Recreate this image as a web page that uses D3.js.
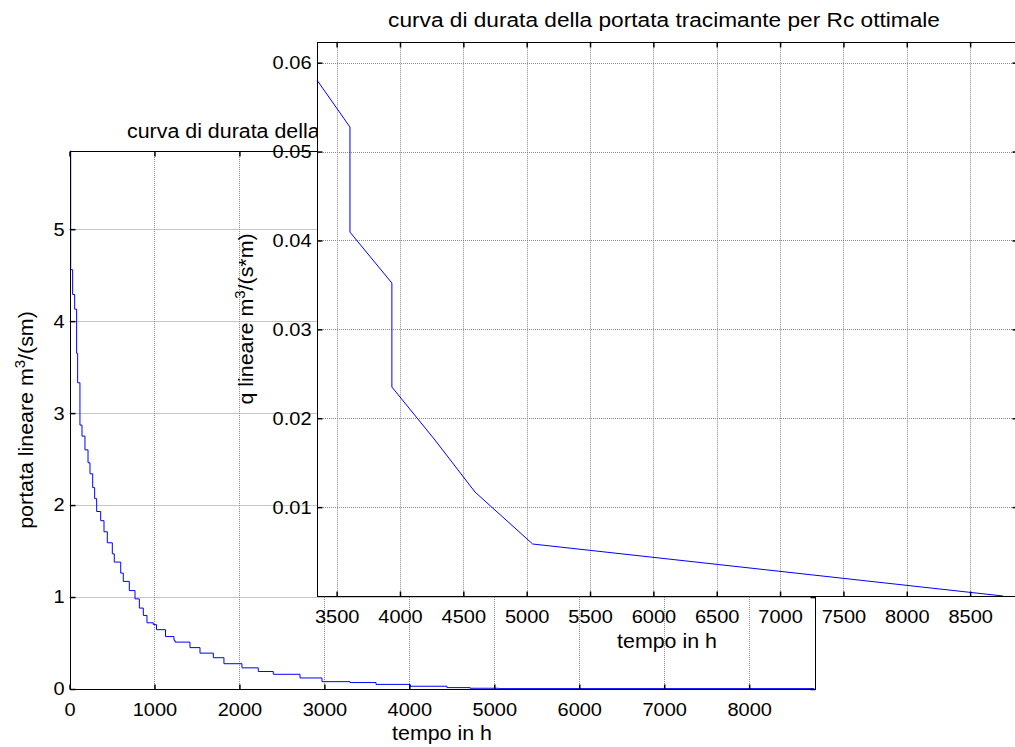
<!DOCTYPE html>
<html><head><meta charset="utf-8">
<script src="https://cdn.jsdelivr.net/npm/d3@7"></script>
<style>
body{margin:0;background:#fff}
svg text{font-family:"Liberation Sans",Arial,sans-serif;fill:#000}
</style>
</head><body>
<svg id="c" width="1015" height="747"></svg>
<script>
// ---- main chart data (duration curve, step) ----
const mainHours = [6,14,37,61,84,96,123,147,182,218,241,273,296,320,367,406,445,504,527,603,633,704,771,822,869,912,986,1024,1130,1230,1242,1418,1536,1693,1818,2030,2222,2399,2713,2972,3302,3608,4008,4443,4714,5050,8760];
const mainFlow  = [5.85,4.56,4.29,4.13,3.65,3.33,2.87,2.75,2.60,2.46,2.34,2.19,2.07,1.93,1.83,1.71,1.59,1.47,1.38,1.26,1.17,1.07,0.98,0.88,0.80,0.72,0.70,0.645,0.57,0.53,0.51,0.45,0.39,0.34,0.275,0.23,0.19,0.16,0.12,0.08,0.07,0.05,0.03,0.015,0.008,0.004,0.0];
const mainXTicks = [0,1000,2000,3000,4000,5000,6000,7000,8000];
const mainYTicks = [0,1,2,3,4,5];
const mainTitle = "curva di durata della portata lineare tracimante";
const mainXLabel = "tempo in h";

// ---- inset chart data ----
const insetHours = [3345,3605,3605,3936,3936,4276,4592,5047,8760];
const insetFlow  = [0.05804,0.05276,0.04094,0.03521,0.02351,0.01755,0.0117,0.00585,0];
const insetXTicks = [3500,4000,4500,5000,5500,6000,6500,7000,7500,8000,8500];
const insetYTicks = [0.01,0.02,0.03,0.04,0.05,0.06];
const insetTitle = "curva di durata della portata tracimante per Rc ottimale";
const insetXLabel = "tempo in h";

const svg = d3.select("#c");
const TICK_FS = 18.5, TICK_SX = 1.08;
const LAB_FS = 20, LAB_SX = 1.07;
const GRID = "#8a8a8a";

function drawPanel(cfg){
  const {L,R,T,B,xd,yd,hours,flow,xt,yt,step,bg,yfmt} = cfg;
  const g = svg.append("g");
  const x = d3.scaleLinear().domain(xd).range([L,R]);
  const y = d3.scaleLinear().domain(yd).range([B,T]);
  const px = v => Math.round(x(v))+0.5, py = v => Math.round(y(v))+0.5;
  if(bg) g.append("rect").attr("x",L).attr("y",T).attr("width",R-L).attr("height",B-T).attr("fill","#fff");
  // grid
  g.append("g").selectAll("line").data(xt.filter(v=>x(v)>L+1)).join("line")
    .attr("x1",px).attr("x2",px).attr("y1",T).attr("y2",B)
    .attr("stroke",GRID).attr("stroke-width",1).attr("stroke-dasharray","1,1");
  g.append("g").selectAll("line").data(yt.filter(v=>y(v)<B-1)).join("line")
    .attr("y1",py).attr("y2",py).attr("x1",L).attr("x2",R)
    .attr("stroke",GRID).attr("stroke-width",1).attr("stroke-dasharray","1,1");
  // curve
  const pts = hours.map((h,i)=>[h,flow[i]]);
  const line = d3.line().x(d=>x(d[0])).y(d=>y(d[1])).curve(step?d3.curveStepAfter:d3.curveLinear);
  g.append("path").datum(pts).attr("d",line).attr("fill","none").attr("stroke","#0000ff").attr("stroke-width",1);
  // axes with inner ticks
  const ax = (gen, tr) => {
    const a = g.append("g").attr("transform",tr).call(gen);
    a.select(".domain").remove();
    a.selectAll(".tick line").attr("stroke","#000").attr("stroke-width",1.5);
    a.attr("font-family",null).attr("font-size",TICK_FS);
    return a;
  };
  const bx = ax(d3.axisBottom(x).tickValues(xt).tickSize(-5).tickPadding(13).tickFormat(d3.format("d")), `translate(0,${Math.round(B)+0.5})`);
  bx.selectAll("text").attr("transform",`scale(${TICK_SX},1)`);
  ax(d3.axisTop(x).tickValues(xt).tickSize(-5).tickFormat(""), `translate(0,${Math.round(T)+0.5})`);
  const ly = ax(d3.axisLeft(y).tickValues(yt).tickSize(-5).tickPadding(6).tickFormat(yfmt), `translate(${Math.round(L)+0.5},0)`);
  ly.selectAll("text").attr("transform",`scale(${TICK_SX},1)`).attr("x",-6/TICK_SX);
  ax(d3.axisRight(y).tickValues(yt).tickSize(-5).tickFormat(""), `translate(${Math.round(R)+0.5},0)`);
  // box
  g.append("rect").attr("x",Math.round(L)+0.5).attr("y",Math.round(T)+0.5)
    .attr("width",Math.round(R)-Math.round(L)).attr("height",Math.round(B)-Math.round(T))
    .attr("fill","none").attr("stroke","#000").attr("stroke-width",1);
  return {g,x,y};
}

function label(g, x, y, rot, anchor, fs, sx){
  return g.append("text").attr("font-size",fs||LAB_FS).attr("text-anchor",anchor||"middle")
    .attr("transform",`translate(${x},${y}) rotate(${rot||0}) scale(${sx||LAB_SX},1)`);
}
function supLabel(g, parts, x, y, rot){
  const t = label(g, x, y, rot);
  parts.forEach(p=>{
    if(p.sup){ t.append("tspan").attr("font-size",LAB_FS*0.7).attr("dy",-8).text(p.t); }
    else { t.append("tspan").attr("dy",p.after?8:0).text(p.t); }
  });
  return t;
}

// ---- main panel ----
const m = drawPanel({L:69.5,R:815,T:151,B:689,xd:[0,8775],yd:[0,5.85],hours:mainHours,flow:mainFlow,
  xt:mainXTicks,yt:mainYTicks,step:true,bg:false,yfmt:d3.format("d")});
label(m.g, 127, 138, 0, "start").text(mainTitle);
label(m.g, 442, 740).text(mainXLabel);
supLabel(m.g, [{t:"portata lineare m"},{t:"3",sup:true},{t:"/(sm)",after:true}], 33, 420, -90);

// ---- inset panel ----
const s = drawPanel({L:317,R:1017,T:41.7,B:596,xd:[3345,8870],yd:[0,0.06236],hours:insetHours,flow:insetFlow,
  xt:insetXTicks,yt:insetYTicks,step:false,bg:true,yfmt:d3.format(".2f")});
label(s.g, 664, 27, 0, "middle", 21, 1.08).text(insetTitle);
label(s.g, 667, 648).text(insetXLabel);
supLabel(s.g, [{t:"q lineare m"},{t:"3",sup:true},{t:"/(s*m)",after:true}], 253, 319, -90);
</script>
</body></html>
